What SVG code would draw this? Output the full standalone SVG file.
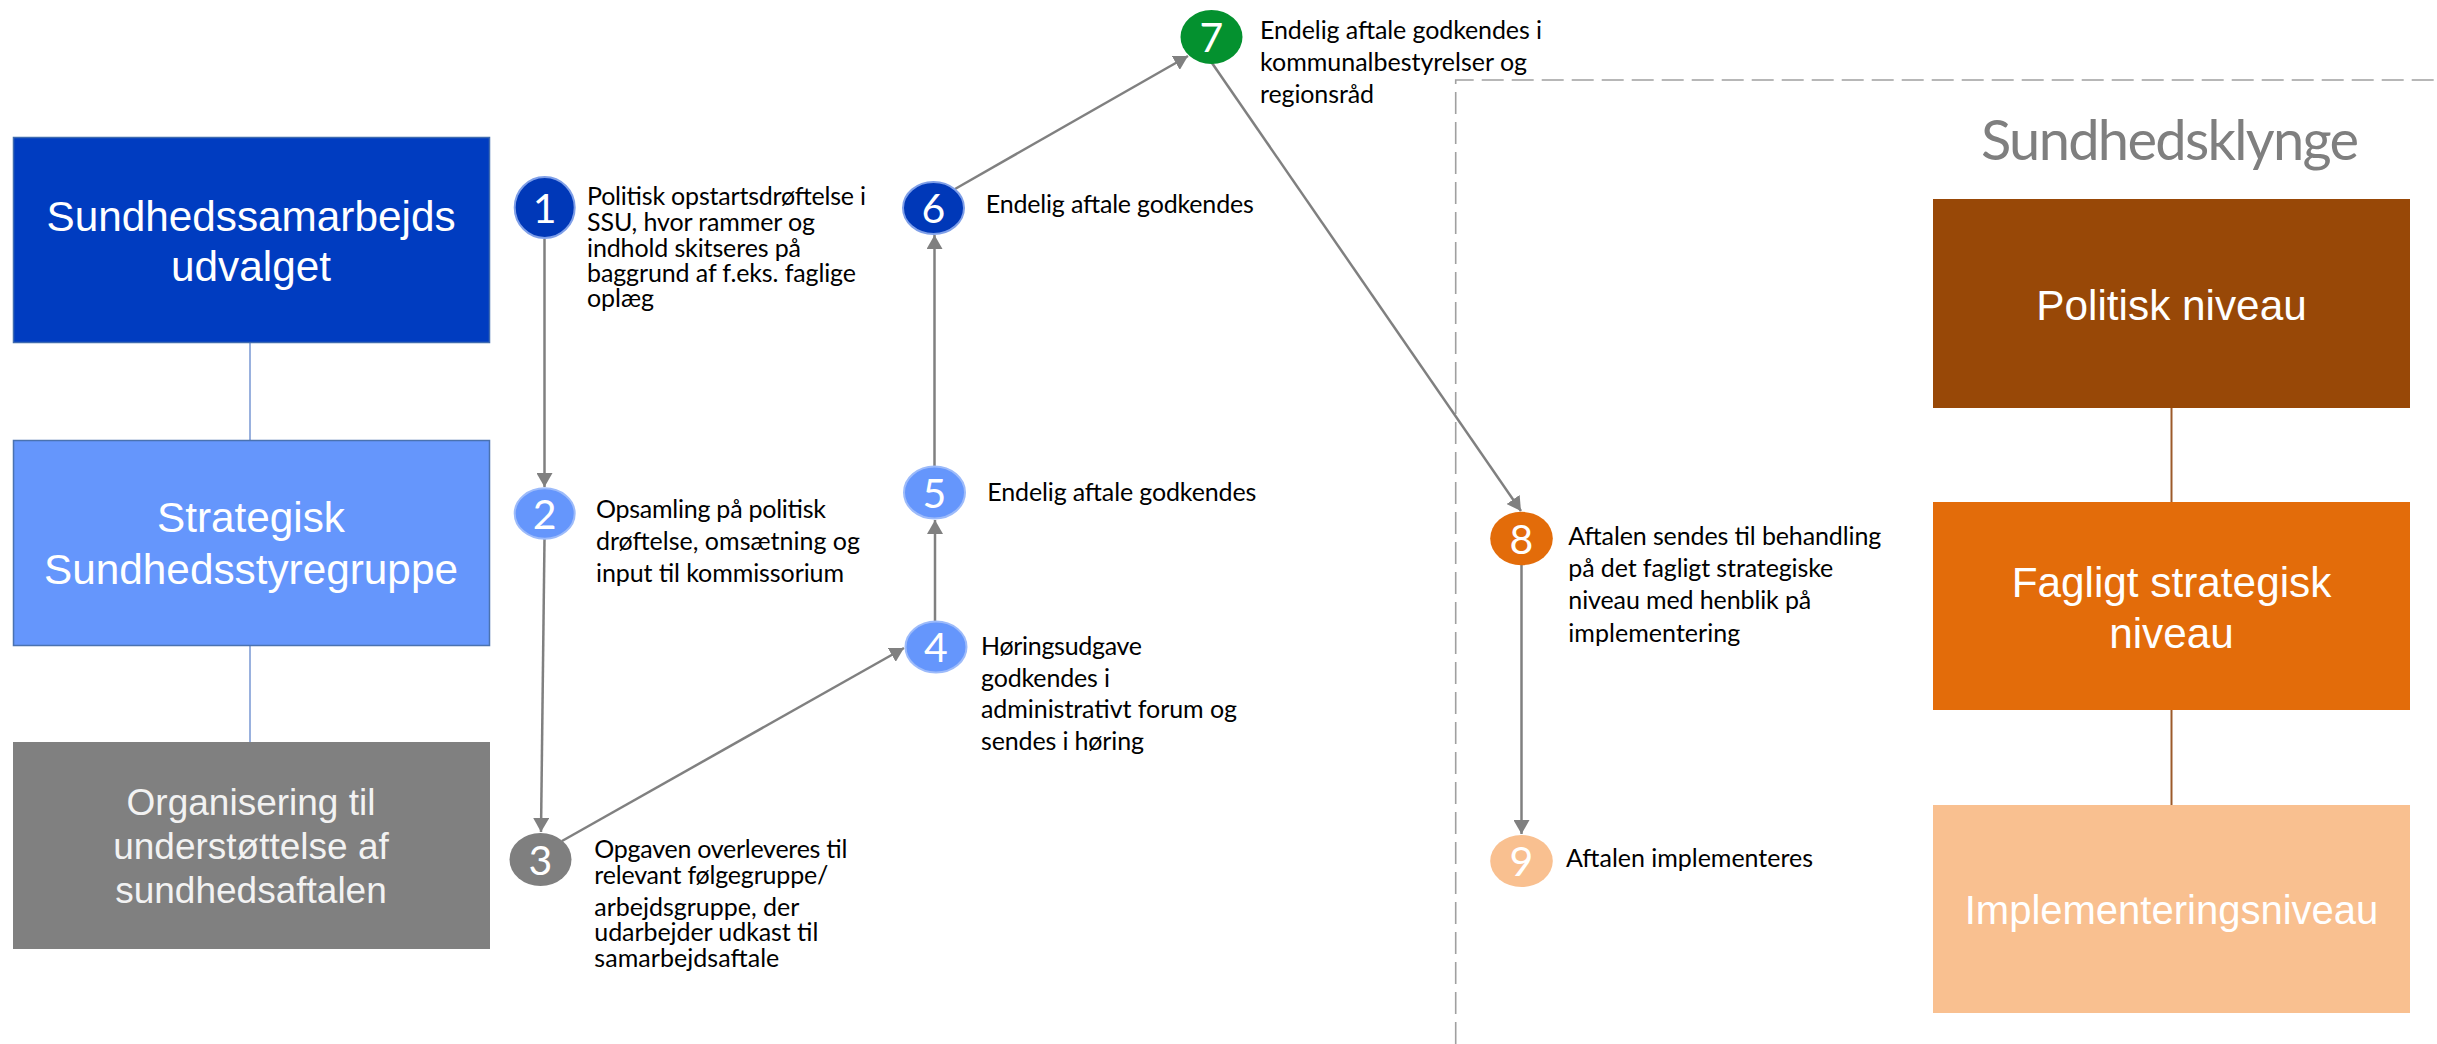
<svg xmlns="http://www.w3.org/2000/svg" width="2437" height="1044" viewBox="0 0 2437 1044">
<style>
.box{font-family:"Liberation Sans",Arial,sans-serif;fill:#ffffff;text-anchor:middle}
.b42{font-size:42.3px}
.b37{font-size:37px;fill:#f2f2f2}
.lbl{font-family:Lato,"Open Sans",sans-serif;font-size:25px;fill:#000000}
.num{font-family:Lato,"Open Sans",sans-serif;font-size:41px;fill:#ffffff;text-anchor:middle}
.arr{stroke:#808080;stroke-width:2.5;fill:none;marker-end:url(#ah)}
.lconn{stroke:#8EA9DB;stroke-width:1.8}
.rconn{stroke:#9C5A2A;stroke-width:2}
</style>
<defs>
<marker id="ah" markerUnits="userSpaceOnUse" markerWidth="16" markerHeight="16" refX="14" refY="8" orient="auto">
<path d="M0,0 L14,8 L0,16 z" fill="#808080"/>
</marker>
</defs>
<rect width="2437" height="1044" fill="#ffffff"/>

<!-- dashed region -->
<path d="M1455.7,1044 L1455.7,80 L2437,80" fill="none" stroke="#a0a0a0" stroke-width="1.6" stroke-dasharray="22 8"/>

<!-- left structural connectors -->
<g id="left-connectors">
<line class="lconn" x1="250" y1="343" x2="250" y2="440"/>
<line class="lconn" x1="250" y1="646" x2="250" y2="742"/>
</g>

<g id="box-ssu">
<rect x="13.5" y="137.5" width="476" height="205" fill="#003CC0" stroke="#3F6BB0" stroke-width="1.5"/>
<text class="box b42" x="251" y="231">Sundhedssamarbejds</text>
<text class="box b42" x="251" y="281">udvalget</text>
</g>
<g id="box-strategisk">
<rect x="13.5" y="440.5" width="476" height="205" fill="#6596FC" stroke="#4A72B0" stroke-width="1.5"/>
<text class="box b42" x="251" y="532">Strategisk</text>
<text class="box b42" x="251" y="584">Sundhedsstyregruppe</text>
</g>
<g id="box-organisering">
<rect x="13" y="742" width="477" height="207" fill="#808080"/>
<text class="box b37" x="251" y="815">Organisering til</text>
<text class="box b37" x="251" y="859">understøttelse af</text>
<text class="box b37" x="251" y="903">sundhedsaftalen</text>
</g>

<!-- right column -->
<text id="title-sundhedsklynge" x="1981" y="160" font-family="Lato,'Open Sans',sans-serif" font-size="56" fill="#7F7F7F" textLength="378">Sundhedsklynge</text>
<g id="right-connectors">
<line class="rconn" x1="2171.5" y1="408" x2="2171.5" y2="502"/>
<line class="rconn" x1="2171.5" y1="710" x2="2171.5" y2="805"/>
</g>
<g id="box-politisk">
<rect x="1933" y="199" width="477" height="209" fill="#984807"/>
<text class="box b42" x="2171.5" y="320">Politisk niveau</text>
</g>
<g id="box-fagligt">
<rect x="1933" y="502" width="477" height="208" fill="#E36C0A"/>
<text class="box b42" x="2171.5" y="597">Fagligt strategisk</text>
<text class="box b42" x="2171.5" y="648">niveau</text>
</g>
<g id="box-implementering">
<rect x="1933" y="805" width="477" height="208" fill="#F9C090"/>
<text class="box" font-size="40" x="2171.5" y="924" fill="#FFF6EE">Implementeringsniveau</text>
</g>

<!-- process connectors -->
<g id="connectors">
<line class="arr" x1="544.5" y1="239" x2="544.5" y2="487"/>
<line class="arr" x1="544.5" y1="539" x2="541" y2="832"/>
<line class="arr" x1="562" y1="841" x2="904" y2="648"/>
<line class="arr" x1="935" y1="621" x2="935" y2="520"/>
<line class="arr" x1="934.5" y1="466" x2="934.5" y2="235"/>
<line class="arr" x1="955" y1="189" x2="1188" y2="56"/>
<line class="arr" x1="1212" y1="63" x2="1521" y2="511"/>
<line class="arr" x1="1521.5" y1="565" x2="1521.5" y2="834"/>
</g>

<!-- step nodes -->
<g id="step1">
<ellipse cx="544.7" cy="207.5" rx="30" ry="30.5" fill="#0038B8" stroke="#7F9FE8" stroke-width="2"/>
<text class="num" x="544.7" y="222.5">1</text>
<text class="lbl" x="587" y="205" textLength="279">Politisk opstartsdrøftelse i</text>
<text class="lbl" x="587" y="231" textLength="228">SSU, hvor rammer og</text>
<text class="lbl" x="587" y="256.7" textLength="214">indhold skitseres på</text>
<text class="lbl" x="587" y="282" textLength="269">baggrund af f.eks. faglige</text>
<text class="lbl" x="587" y="306.7" textLength="67">oplæg</text>
</g>
<g id="step2">
<ellipse cx="544.7" cy="513.5" rx="30" ry="25.2" fill="#6596FC" stroke="#9DBBFA" stroke-width="2"/>
<text class="num" x="544.7" y="528.5">2</text>
<text class="lbl" x="596" y="517.7" textLength="230">Opsamling på politisk</text>
<text class="lbl" x="596" y="550" textLength="264">drøftelse, omsætning og</text>
<text class="lbl" x="596" y="581.7" textLength="248">input til kommissorium</text>
</g>
<g id="step3">
<ellipse cx="540.5" cy="859.5" rx="31" ry="26.5" fill="#7F7F7F"/>
<text class="num" x="540.5" y="874.5">3</text>
<text class="lbl" x="594.3" y="858.3" textLength="253">Opgaven overleveres til</text>
<text class="lbl" x="594.3" y="884" textLength="234">relevant følgegruppe/</text>
<text class="lbl" x="594.3" y="916" textLength="205">arbejdsgruppe, der</text>
<text class="lbl" x="594.3" y="941" textLength="224">udarbejder udkast til</text>
<text class="lbl" x="594.3" y="966.7" textLength="185">samarbejdsaftale</text>
</g>
<g id="step4">
<ellipse cx="936" cy="647" rx="30.5" ry="25.5" fill="#6596FC" stroke="#9DBBFA" stroke-width="2"/>
<text class="num" x="936" y="662">4</text>
<text class="lbl" x="981" y="655" textLength="161">Høringsudgave</text>
<text class="lbl" x="981" y="686.7" textLength="129">godkendes i</text>
<text class="lbl" x="981" y="718.3" textLength="256">administrativt forum og</text>
<text class="lbl" x="981" y="750" textLength="163">sendes i høring</text>
</g>
<g id="step5">
<ellipse cx="934.5" cy="492.5" rx="30.5" ry="26" fill="#6596FC" stroke="#9DBBFA" stroke-width="2"/>
<text class="num" x="934.5" y="507.5">5</text>
<text class="lbl" x="987.3" y="500.7" textLength="269">Endelig aftale godkendes</text>
</g>
<g id="step6">
<ellipse cx="933.5" cy="208" rx="30.5" ry="26" fill="#0038B8" stroke="#7F9FE8" stroke-width="2"/>
<text class="num" x="933.5" y="223">6</text>
<text class="lbl" x="985.8" y="213.3" textLength="268">Endelig aftale godkendes</text>
</g>
<g id="step7">
<ellipse cx="1211.5" cy="37" rx="31" ry="27" fill="#04912F"/>
<text class="num" x="1211.5" y="52">7</text>
<text class="lbl" x="1260" y="38.6" textLength="282">Endelig aftale godkendes i</text>
<text class="lbl" x="1260" y="71" textLength="267">kommunalbestyrelser og</text>
<text class="lbl" x="1260" y="103" textLength="114">regionsråd</text>
</g>
<g id="step8">
<ellipse cx="1521.5" cy="538.5" rx="31.3" ry="26.7" fill="#E36C0A"/>
<text class="num" x="1521.5" y="553.5">8</text>
<text class="lbl" x="1568.3" y="545" textLength="313">Aftalen sendes til behandling</text>
<text class="lbl" x="1568.3" y="577.3" textLength="265">på det fagligt strategiske</text>
<text class="lbl" x="1568.3" y="609.3" textLength="243">niveau med henblik på</text>
<text class="lbl" x="1568.3" y="641.7" textLength="172">implementering</text>
</g>
<g id="step9">
<ellipse cx="1521.5" cy="861" rx="31.3" ry="26" fill="#F9C090"/>
<text class="num" x="1521.5" y="876">9</text>
<text class="lbl" x="1566" y="866.7" textLength="247">Aftalen implementeres</text>
</g>
</svg>
